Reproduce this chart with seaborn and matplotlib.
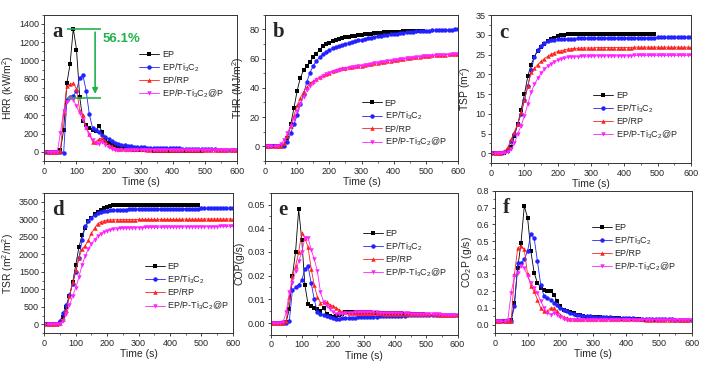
import numpy as np
import pandas as pd
import matplotlib
matplotlib.use("Agg")
import matplotlib.pyplot as plt
from matplotlib.ticker import MultipleLocator
import seaborn as sns

# time grid (s); EP test ended at 490 s
t_ep = list(range(0, 500, 10))
t_all = list(range(0, 610, 10))

series_names = ["EP", "EP/Ti$_3$C$_2$", "EP/RP", "EP/P-Ti$_3$C$_2$@P"]

# ---- a: heat release rate (kW/m2)
hrr_ep = [0, 0, 0, 0, 0, 20, 240, 750, 960, 1350,
          1120, 600, 340, 290, 260, 240, 230, 280, 220, 130,
          100, 80, 70, 60, 50, 40, 35, 30, 25, 22,
          20, 18, 16, 15, 14, 13, 12, 12, 11, 11,
          10, 10, 10, 9, 9, 8, 8, 7, 6, 5]
hrr_ti = [0, 0, 0, 0, 0, 0, -10, 570, 600, 610,
          670, 810, 840, 670, 410, 260, 240, 220, 180, 160,
          140, 120, 100, 90, 80, 70, 65, 60, 55, 52,
          50, 48, 47, 46, 45, 44, 43, 42, 41, 40,
          39, 38, 37, 36, 35, 34, 33, 32, 31, 30,
          29, 28, 27, 26, 25, 24, 24, 23, 22, 21, 20]
hrr_rp = [0, 0, 0, 0, 0, 10, 420, 720, 740, 750,
          690, 450, 400, 270, 200, 110, 110, 140, 150, 120,
          80, 60, 40, 35, 30, 28, 27, 27, 26, 26,
          26, 26, 25, 25, 25, 25, 25, 25, 25, 25,
          25, 25, 25, 25, 25, 25, 25, 25, 25, 25,
          25, 25, 25, 25, 25, 24, 24, 24, 24, 24, 24]
hrr_pt = [0, 0, 0, 0, 0, 210, 450, 540, 593, 570,
          500, 420, 350, 260, 180, 130, 100, 90, 110, 80,
          50, 30, 20, 18, 18, 18, 18, 18, 18, 18,
          18, 18, 18, 18, 18, 19, 19, 19, 19, 19,
          19, 19, 19, 19, 19, 20, 20, 20, 20, 20,
          20, 20, 20, 20, 20, 20, 20, 20, 20, 20, 20]

# ---- b: total heat release (MJ/m2)
thr_ep = [0, 0, 0, 0, 0, 0, 0.5, 6, 15, 26,
          38, 47, 52, 55, 58, 61, 63.5, 66, 68.5, 70,
          71, 72, 72.8, 73.4, 74, 74.5, 75, 75.4, 75.8, 76.2,
          76.5, 76.8, 77, 77.2, 77.4, 77.6, 77.8, 78, 78.1, 78.2,
          78.3, 78.4, 78.5, 78.6, 78.7, 78.8, 78.9, 79, 79, 79.1]
thr_ti = [0, 0, 0, 0, 0, 0, 0, 3, 9, 15,
          21.5, 29, 36, 44, 50.5, 55, 58.5, 61, 63, 64.5,
          66, 67, 68, 68.8, 69.5, 70.2, 70.8, 71.4, 72, 72.5,
          73, 73.5, 74, 74.4, 74.8, 75.2, 75.6, 76, 76.3, 76.6,
          76.9, 77.2, 77.5, 77.8, 78, 78.2, 78.4, 78.6, 78.8, 79,
          79.1, 79.2, 79.3, 79.4, 79.5, 79.6, 79.7, 79.8, 79.9, 80, 80.2]
thr_rp = [0, 0, 0, 0, 0, 0, 2, 7, 14, 21,
          28, 33, 37.5, 40.5, 43, 44.5, 46, 47.5, 48.5, 49.5,
          50.5, 51.5, 52.3, 52.9, 53.4, 53.8, 54.1, 54.4, 54.7, 55,
          55.3, 55.7, 56.1, 56.5, 56.9, 57.3, 57.6, 58, 58.4, 58.7,
          59, 59.3, 59.6, 59.9, 60.2, 60.5, 60.8, 61.1, 61.4, 61.6,
          61.8, 62, 62.2, 62.4, 62.5, 62.7, 62.8, 62.9, 63, 63.1, 63.2]
thr_pt = [0, 0, 0, 0, 0, 1.5, 4.5, 9, 14, 19,
          24, 29, 34, 38.5, 41.5, 43.5, 45.5, 47, 48.3, 49.3,
          50.1, 50.8, 51.5, 52.1, 52.7, 53.2, 53.6, 54, 54.4, 54.8,
          55.1, 55.5, 55.9, 56.3, 56.7, 57.1, 57.5, 57.9, 58.3, 58.6,
          58.9, 59.2, 59.5, 59.8, 60.1, 60.4, 60.7, 61, 61.3, 61.5,
          61.7, 61.9, 62.1, 62.3, 62.5, 62.6, 62.7, 62.8, 62.9, 63, 63.1]

# ---- c: total smoke production (m2)
tsp_ep = [0, 0, 0, 0, 0, 0.5, 1.5, 4.5, 7.5, 11,
          15, 19.5, 22.5, 24.5, 26, 27, 27.8, 28.5, 29, 29.3,
          29.6, 29.9, 30.1, 30.2, 30.2, 30.2, 30.2, 30.2, 30.2, 30.2,
          30.2, 30.2, 30.2, 30.2, 30.2, 30.2, 30.2, 30.2, 30.2, 30.2,
          30.2, 30.2, 30.2, 30.2, 30.2, 30.2, 30.2, 30.2, 30.2, 30.2]
tsp_ti = [0, 0, 0, 0, 0.3, 1, 3, 5, 7.5, 10,
          13.5, 17, 21, 24.5, 26.3, 27.3, 28, 28.4, 28.6, 28.8,
          28.9, 28.9, 29, 29, 29, 29, 29.1, 29.1, 29.1, 29.1,
          29.1, 29.2, 29.2, 29.2, 29.2, 29.2, 29.2, 29.2, 29.3, 29.3,
          29.3, 29.3, 29.3, 29.3, 29.3, 29.3, 29.3, 29.3, 29.3, 29.3,
          29.4, 29.4, 29.4, 29.4, 29.4, 29.4, 29.4, 29.4, 29.4, 29.4, 29.4]
tsp_rp = [0, 0, 0, 0, 0.5, 1.5, 3.5, 5.5, 7.5, 10.5,
          13.5, 17, 20.5, 21.5, 22.5, 23.3, 24, 24.6, 25.1, 25.5,
          25.8, 26, 26.2, 26.4, 26.5, 26.6, 26.6, 26.7, 26.7, 26.7,
          26.7, 26.7, 26.8, 26.8, 26.8, 26.8, 26.8, 26.8, 26.8, 26.8,
          26.8, 26.8, 26.8, 26.9, 26.9, 26.9, 26.9, 26.9, 26.9, 26.9,
          26.9, 26.9, 26.9, 26.9, 26.9, 26.9, 26.9, 26.9, 26.9, 26.9, 26.9]
tsp_pt = [0, 0, 0, 0, 0, 0.3, 1, 2.5, 5, 7,
          9.5, 12.5, 15.5, 17.5, 19, 20.3, 21.3, 22.1, 22.7, 23.2,
          23.6, 23.9, 24.1, 24.3, 24.4, 24.5, 24.5, 24.6, 24.6, 24.6,
          24.6, 24.7, 24.7, 24.7, 24.7, 24.7, 24.7, 24.7, 24.7, 24.7,
          24.7, 24.7, 24.7, 24.8, 24.8, 24.8, 24.8, 24.8, 24.8, 24.8,
          24.8, 24.8, 24.8, 24.8, 24.8, 24.8, 24.8, 24.8, 24.8, 24.8, 24.8]

# ---- d: total smoke release (m2/m2)
tsr_ep = [0, 0, 0, 0, 0, 30, 200, 500, 800, 1200,
          1700, 2200, 2550, 2750, 2950, 3050, 3150, 3220, 3280, 3320,
          3360, 3380, 3400, 3410, 3420, 3420, 3420, 3420, 3420, 3420,
          3420, 3420, 3420, 3420, 3420, 3420, 3420, 3420, 3420, 3420,
          3420, 3420, 3420, 3420, 3420, 3420, 3420, 3420, 3420, 3420]
tsr_ti = [0, 0, 0, 0, 0, 100, 320, 550, 850, 1150,
          1500, 1900, 2400, 2800, 2950, 3050, 3120, 3170, 3200, 3230,
          3250, 3260, 3270, 3270, 3280, 3280, 3280, 3290, 3290, 3290,
          3290, 3290, 3300, 3300, 3300, 3300, 3300, 3300, 3300, 3300,
          3310, 3310, 3310, 3310, 3310, 3310, 3310, 3310, 3310, 3310,
          3320, 3320, 3320, 3320, 3320, 3320, 3320, 3320, 3320, 3320, 3320]
tsr_rp = [0, 0, 0, 0, 0, 30, 150, 420, 800, 1200,
          1550, 1900, 2150, 2250, 2400, 2600, 2750, 2880, 2930, 2960,
          2980, 2985, 2990, 2990, 2990, 2995, 2995, 2995, 2995, 2995,
          3000, 3000, 3000, 3000, 3000, 3000, 3000, 3000, 3000, 3000,
          3000, 3000, 3000, 3000, 3005, 3005, 3005, 3005, 3005, 3005,
          3010, 3010, 3010, 3010, 3010, 3010, 3010, 3010, 3010, 3010, 3010]
tsr_pt = [0, 0, 0, 0, 0, 20, 80, 300, 550, 800,
          1050, 1350, 1700, 1950, 2150, 2300, 2420, 2520, 2590, 2640,
          2670, 2700, 2715, 2730, 2740, 2745, 2750, 2755, 2760, 2760,
          2765, 2765, 2770, 2770, 2770, 2775, 2775, 2775, 2780, 2780,
          2780, 2780, 2785, 2785, 2785, 2785, 2790, 2790, 2790, 2790,
          2790, 2795, 2795, 2795, 2795, 2795, 2800, 2800, 2800, 2800, 2800]

# ---- e: CO production (g/s)
cop_ep = [0, 0, 0, 0, 0, 0.0005, 0.006, 0.020, 0.030, 0.048,
          0.035, 0.016, 0.008, 0.007, 0.0065, 0.006, 0.005, 0.0065, 0.004, 0.003,
          0.0025, 0.003, 0.0035, 0.004, 0.0045, 0.0045, 0.0047, 0.0048, 0.0048, 0.0047,
          0.0046, 0.0045, 0.0045, 0.0044, 0.0044, 0.0043, 0.0043, 0.0042, 0.0042, 0.0042,
          0.0041, 0.0041, 0.0041, 0.004, 0.004, 0.004, 0.004, 0.004, 0.004, 0.004]
cop_ti = [0, 0, 0, 0, 0, 0, 0.001, 0.014, 0.015, 0.016,
          0.018, 0.023, 0.024, 0.017, 0.010, 0.0045, 0.0038, 0.0032, 0.0028, 0.0025,
          0.002, 0.0018, 0.0018, 0.002, 0.002, 0.0022, 0.0022, 0.0023, 0.0024, 0.0024,
          0.0025, 0.0026, 0.0026, 0.0027, 0.0027, 0.0028, 0.0028, 0.0029, 0.0029, 0.003,
          0.003, 0.003, 0.0031, 0.0031, 0.0032, 0.0032, 0.0032, 0.0033, 0.0033, 0.0033,
          0.0034, 0.0034, 0.0034, 0.0034, 0.0035, 0.0035, 0.0035, 0.0035, 0.0035, 0.0035, 0.0035]
cop_rp = [0, 0, 0, 0, 0, 0.001, 0.011, 0.020, 0.024, 0.030,
          0.038, 0.036, 0.032, 0.023, 0.016, 0.011, 0.0085, 0.0088, 0.0088, 0.0078,
          0.0072, 0.0065, 0.0055, 0.0048, 0.0045, 0.0044, 0.0044, 0.0043, 0.0043, 0.0043,
          0.0042, 0.0042, 0.0042, 0.0041, 0.0041, 0.0041, 0.004, 0.004, 0.004, 0.004,
          0.0039, 0.0039, 0.0039, 0.0038, 0.0038, 0.0038, 0.0037, 0.0037, 0.0037, 0.0037,
          0.0036, 0.0036, 0.0036, 0.0036, 0.0035, 0.0035, 0.0035, 0.0035, 0.0035, 0.0035, 0.0035]
cop_pt = [0, 0, 0, 0, 0.0005, 0.0045, 0.013, 0.017, 0.022, 0.026,
          0.030, 0.036, 0.036, 0.031, 0.027, 0.022, 0.013, 0.009, 0.007, 0.006,
          0.0045, 0.004, 0.0038, 0.004, 0.0042, 0.0043, 0.0044, 0.0045, 0.0045, 0.0045,
          0.0045, 0.0045, 0.0045, 0.0045, 0.0045, 0.0044, 0.0044, 0.0044, 0.0043, 0.0043,
          0.0043, 0.0042, 0.0042, 0.0041, 0.0041, 0.004, 0.004, 0.0039, 0.0039, 0.0038,
          0.0038, 0.0037, 0.0037, 0.0036, 0.0036, 0.0035, 0.0035, 0.0034, 0.0034, 0.0033, 0.0033]

# ---- f: CO2 production (g/s)
co2_ep = [0.02, 0.02, 0.02, 0.02, 0.02, 0.03, 0.13, 0.34, 0.49, 0.71,
          0.64, 0.44, 0.31, 0.25, 0.22, 0.21, 0.20, 0.20, 0.18, 0.14,
          0.11, 0.09, 0.08, 0.075, 0.07, 0.06, 0.055, 0.05, 0.048, 0.046,
          0.045, 0.044, 0.043, 0.042, 0.041, 0.04, 0.039, 0.038, 0.037, 0.036,
          0.035, 0.034, 0.033, 0.032, 0.031, 0.03, 0.029, 0.028, 0.027, 0.026]
co2_ti = [0.02, 0.02, 0.02, 0.02, 0.02, 0.02, 0.11, 0.37, 0.37, 0.39,
          0.44, 0.54, 0.52, 0.38, 0.24, 0.17, 0.16, 0.15, 0.13, 0.12,
          0.10, 0.09, 0.08, 0.07, 0.065, 0.06, 0.055, 0.05, 0.05, 0.05,
          0.048, 0.047, 0.046, 0.045, 0.044, 0.043, 0.042, 0.041, 0.04, 0.04,
          0.039, 0.038, 0.037, 0.036, 0.036, 0.035, 0.035, 0.034, 0.034, 0.033,
          0.033, 0.032, 0.032, 0.031, 0.031, 0.03, 0.03, 0.03, 0.03, 0.03, 0.03]
co2_rp = [0.02, 0.02, 0.02, 0.02, 0.02, 0.02, 0.30, 0.46, 0.47, 0.45,
          0.30, 0.23, 0.20, 0.15, 0.10, 0.08, 0.08, 0.10, 0.10, 0.08,
          0.06, 0.045, 0.04, 0.036, 0.034, 0.033, 0.032, 0.032, 0.032, 0.032,
          0.032, 0.032, 0.032, 0.032, 0.032, 0.032, 0.031, 0.031, 0.031, 0.031,
          0.031, 0.031, 0.031, 0.031, 0.031, 0.031, 0.03, 0.03, 0.03, 0.03,
          0.03, 0.03, 0.03, 0.03, 0.03, 0.03, 0.03, 0.03, 0.03, 0.03, 0.03]
co2_pt = [0.02, 0.02, 0.02, 0.02, 0.03, 0.19, 0.29, 0.31, 0.35, 0.34,
          0.29, 0.25, 0.22, 0.19, 0.14, 0.10, 0.07, 0.06, 0.07, 0.06,
          0.045, 0.035, 0.03, 0.028, 0.028, 0.028, 0.028, 0.028, 0.028, 0.028,
          0.028, 0.028, 0.028, 0.028, 0.028, 0.029, 0.029, 0.029, 0.029, 0.029,
          0.029, 0.029, 0.029, 0.029, 0.029, 0.03, 0.03, 0.03, 0.03, 0.03,
          0.03, 0.03, 0.03, 0.03, 0.03, 0.03, 0.03, 0.03, 0.03, 0.03, 0.03]

sns.set_theme(style="ticks")
plt.rcParams['font.family'] = ['Liberation Sans', 'DejaVu Sans']
plt.rcParams['mathtext.default'] = 'regular'

colors = ["black", "#2222ff", "#ff2020", "#ff22ff"]
markers = ["s", "o", "^", "v"]

fig = plt.figure(figsize=(7.16, 3.70), dpi=100)

panels = [
    ("a", [hrr_ep, hrr_ti, hrr_rp, hrr_pt], "HRR (kW/m$^2$)", (-100, 1500), 200, 100, [0.062, 0.565, 0.269, 0.395], (0.46, 0.80)),
    ("b", [thr_ep, thr_ti, thr_rp, thr_pt], "THR (MJ/m$^2$)", (-10, 90), 20, 10, [0.370, 0.565, 0.270, 0.395], (0.47, 0.47)),
    ("c", [tsp_ep, tsp_ti, tsp_rp, tsp_pt], "TSP (m$^2$)", (-2.5, 35), 5, 2.5, [0.686, 0.559, 0.279, 0.400], (0.48, 0.53)),
    ("d", [tsr_ep, tsr_ti, tsr_rp, tsr_pt], "TSR (m$^2$/m$^2$)", (-250, 3750), 500, 250, [0.062, 0.100, 0.263, 0.378], (0.50, 0.55)),
    ("e", [cop_ep, cop_ti, cop_rp, cop_pt], "COP(g/s)", (-0.005, 0.055), 0.01, 0.005, [0.378, 0.095, 0.261, 0.384], (0.46, 0.79)),
    ("f", [co2_ep, co2_ti, co2_rp, co2_pt], "CO$_2$P (g/s)", (-0.05, 0.8), 0.1, 0.05, [0.691, 0.100, 0.275, 0.384], (0.46, 0.82)),
]

for letter, ys, ylab, ylim, major, minor, rect, leg_pos in panels:
    ax = fig.add_axes(rect)
    for i, (name, y) in enumerate(zip(series_names, ys)):
        t = t_ep if i == 0 else t_all
        df = pd.DataFrame({"time": t, "value": y})
        sns.lineplot(data=df, x="time", y="value", ax=ax, color=colors[i],
                     marker=markers[i], markersize=3.2, markeredgewidth=0,
                     linewidth=0.6, label=name)
    ax.set_xlim(0, 600)
    ax.set_ylim(*ylim)
    ax.xaxis.set_major_locator(MultipleLocator(100))
    ax.xaxis.set_minor_locator(MultipleLocator(50))
    ax.yaxis.set_major_locator(MultipleLocator(major))
    ax.yaxis.set_minor_locator(MultipleLocator(minor))
    ax.tick_params(which="major", labelsize=6.5, length=2.5, width=0.6, pad=1.5)
    ax.tick_params(which="minor", length=1.5, width=0.5)
    for s in ax.spines.values():
        s.set_linewidth(0.7)
        s.set_color("#333333")
    ax.set_xlabel("Time (s)", fontsize=7.5, labelpad=1)
    ax.set_ylabel(ylab, fontsize=7.5, labelpad=2)
    ax.text(0.04, 0.95, letter, transform=ax.transAxes, fontsize=15,
            fontweight="bold", family="Liberation Serif", va="top", ha="left")
    ax.legend(loc="upper left", bbox_to_anchor=leg_pos, frameon=False,
              fontsize=6.5, handlelength=2.2, handletextpad=0.3,
              labelspacing=0.25, borderpad=0.2)

    if letter == "a":
        green = "#22b24c"
        top = max(hrr_ep)
        low = max(hrr_pt)
        t_top = t_ep[hrr_ep.index(top)]
        ax.hlines([top, low], t_top - 20, t_top + 85, color=green, linewidth=1.2)
        ax.annotate("", xy=(t_top + 68, low + 10), xytext=(t_top + 68, top - 10),
                    arrowprops=dict(arrowstyle="-|>", color=green, lw=1.2,
                                    mutation_scale=8))
        pct = (top - low) / top * 100
        ax.text(t_top + 90, (top + low) / 2 + 230, f"{pct:.1f}%", color=green,
                fontsize=9.5, fontweight="bold")

fig.savefig("out.png", dpi=100)
